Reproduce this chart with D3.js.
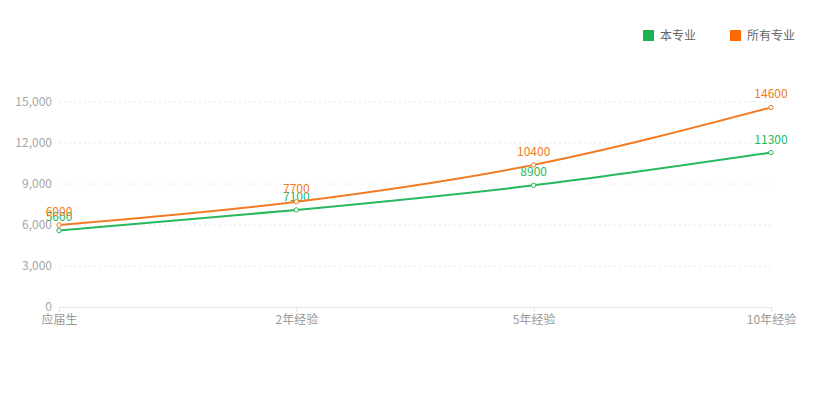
<!DOCTYPE html>
<html>
<head>
<meta charset="utf-8">
<script src="https://cdn.jsdelivr.net/npm/d3@7/dist/d3.min.js"></script>
<style>
  body { margin: 0; background: #fff; }
  text { font-family: "Noto Sans CJK SC", "Noto Sans", sans-serif; }
</style>
</head>
<body>
<svg id="chart" width="838" height="399"></svg>
<script>
const categories = ['应届生', '2年经验', '5年经验', '10年经验'];
const majorValues = [5600, 7100, 8900, 11300];
const allValues = [6000, 7700, 10400, 14600];
const yTicks = [0, 3000, 6000, 9000, 12000, 15000];

const series = [
  { name: '本专业', values: majorValues, color: '#26b85a', legend: '#1ab34f' },
  { name: '所有专业', values: allValues, color: '#f27a22', legend: '#ff6a00' },
];

const svg = d3.select('#chart');

const x = d3.scalePoint()
  .domain(categories)
  .range([59, 771]);

const y = d3.scaleLinear()
  .domain([0, 15000])
  .range([307, 102]);

// grid lines
svg.append('g')
  .selectAll('line')
  .data(yTicks.filter(d => d > 0))
  .join('line')
  .attr('x1', 59)
  .attr('x2', 771)
  .attr('y1', d => y(d))
  .attr('y2', d => y(d))
  .attr('stroke', '#e6e6e6')
  .attr('stroke-dasharray', '2,3');

// y labels
svg.append('g')
  .selectAll('text')
  .data(yTicks)
  .join('text')
  .attr('x', 52)
  .attr('y', d => y(d))
  .attr('dy', '0.35em')
  .attr('text-anchor', 'end')
  .attr('font-size', 12)
  .attr('fill', '#a6a6a6')
  .text(d => d3.format(',')(d));

// x axis
const xAxis = svg.append('g')
  .attr('transform', `translate(0,${y(0)})`)
  .call(d3.axisBottom(x).tickSize(5).tickPadding(3).tickSizeOuter(0));
xAxis.select('.domain').attr('stroke', '#e3e3e3');
xAxis.selectAll('.tick line').attr('stroke', '#e3e3e3');
xAxis.selectAll('.tick text')
  .attr('font-size', 12)
  .attr('fill', '#999')
  .attr('font-family', '"Noto Sans CJK SC", sans-serif');

const line = d3.line()
  .x((d, i) => x(categories[i]))
  .y(d => y(d))
  .curve(d3.curveMonotoneX);

series.forEach((s) => {
  const g = svg.append('g');
  g.append('path')
    .datum(s.values)
    .attr('d', line)
    .attr('fill', 'none')
    .attr('stroke', s.color)
    .attr('stroke-width', 2);

  g.selectAll('circle')
    .data(s.values)
    .join('circle')
    .attr('cx', (d, i) => x(categories[i]))
    .attr('cy', d => y(d))
    .attr('r', 2.2)
    .attr('fill', '#fff')
    .attr('stroke', s.color)
    .attr('stroke-width', 1);

  g.selectAll('text')
    .data(s.values)
    .join('text')
    .attr('x', (d, i) => x(categories[i]))
    .attr('y', d => y(d) - 9)
    .attr('text-anchor', 'middle')
    .attr('font-size', 12)
    .attr('fill', s.color)
    .text(d => d);
});

// legend
const legendX = [643, 730];
series.forEach((s, i) => {
  svg.append('rect')
    .attr('x', legendX[i])
    .attr('y', 30)
    .attr('width', 11)
    .attr('height', 11)
    .attr('fill', s.legend);
  svg.append('text')
    .attr('x', legendX[i] + 17)
    .attr('y', 36)
    .attr('dy', '0.35em')
    .attr('font-size', 12)
    .attr('fill', '#666')
    .text(s.name);
});
</script>
</body>
</html>
